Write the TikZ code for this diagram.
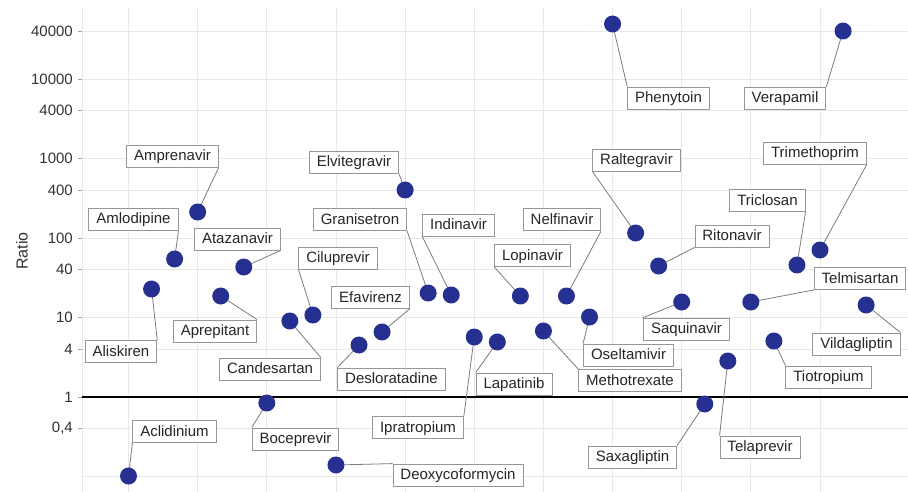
\documentclass[tikz,border=0pt]{standalone}
\usepackage{fontspec}
\newfontfamily\lab{Liberation Sans}
\definecolor{dotblue}{RGB}{38,48,145}
\definecolor{gridgray}{RGB}{232,232,232}
\definecolor{boxgray}{RGB}{150,150,150}
\definecolor{leadgray}{RGB}{125,125,125}
\definecolor{ticktext}{RGB}{50,50,50}
\pgfdeclarelayer{bg}
\pgfdeclarelayer{leaders}
\pgfsetlayers{bg,leaders,main}
\begin{document}
\begin{tikzpicture}[x=1pt,y=-1pt,
  dot/.style={circle,fill=dotblue,minimum size=17pt,inner sep=0pt},
  lbl/.style={draw=boxgray,fill=white,line width=0.8pt,inner xsep=7.5pt,inner ysep=0pt,
    text height=11pt,text depth=2pt,
    minimum height=22pt,text=black!85,font=\lab\fontsize{15}{15}\selectfont},
  leader/.style={draw=leadgray,line width=0.8pt},
  gridline/.style={draw=gridgray,line width=0.9pt},
  ticklbl/.style={anchor=east,text=ticktext,font=\lab\fontsize{15}{15}\selectfont,inner sep=0pt}]
\useasboundingbox (0,0) rectangle (908,492);
\begin{pgfonlayer}{bg}
  \fill[white] (0,0) rectangle (908,492);
  % vertical grid
  \foreach \k in {0,...,10} {
    \draw[gridline] ({128.5+69.15*\k},8) -- ({128.5+69.15*\k},492);
  }
  \draw[gridline] (82,8) -- (82,492);
  % horizontal grid and ticks (log10 values)
  \foreach \lg/\t/\nm in {4.60206/40000/a,4/10000/b,3.60206/4000/c,3/1000/d,2.60206/400/e,2/100/f,1.60206/40/g,1/10/h,0.60206/4/i,0/1/j,-0.39794/{0,4}/k} {
    \pgfmathsetmacro{\yy}{397-79.5*\lg}
    \draw[gridline] (82,\yy) -- (908,\yy);
    \draw[draw=gridgray!70!black,line width=0.8pt] (78,\yy) -- (82,\yy);
    \node[ticklbl] (t\nm) at (73,\yy) {\t};
  }
  \draw[gridline] (82,476.5) -- (908,476.5);
  \draw[black,line width=2.4pt] (82,397) -- (908,397);
\end{pgfonlayer}
\node[rotate=90,text=ticktext,font=\lab\fontsize{16}{16}\selectfont] (ylab) at (22,251) {Ratio};
\foreach \nm/\i/\yy/\cx/\cy/\an in {
  Aclidinium/0/476/174.5/431.5/south west,
  Aliskiren/1/289/121/351.5/north east,
  Amlodipine/2/259/133.5/219/south east,
  Amprenavir/3/212/172.5/156/south east,
  Aprepitant/4/296/215/331/north east,
  Atazanavir/5/267/237.5/239/south east,
  Boceprevir/6/403/295.5/439/north west,
  Candesartan/7/321/270/369/north east,
  Ciluprevir/8/315/338/258/south west,
  Deoxycoformycin/9/465/458/475/north west,
  Desloratadine/10/345/391.5/379/north west,
  Efavirenz/11/332/370.5/297.5/south east,
  Elvitegravir/12/190/354/162.5/south east,
  Granisetron/13/293/360/219.5/south east,
  Indinavir/14/295/458.5/225/south west,
  Ipratropium/15/337/418/427.5/north east,
  Lapatinib/16/342/514/384/north west,
  Lopinavir/17/296/532.5/255.5/south west,
  Methotrexate/18/331/630/380.5/north west,
  Nelfinavir/19/296/562/219.5/south east,
  Oseltamivir/20/317/628.5/355/north west,
  Phenytoin/21/24/668.5/98/north west,
  Raltegravir/22/233/636.5/160/south west,
  Ritonavir/23/266/732/236/south west,
  Saquinavir/24/302/686.5/329/north west,
  Saxagliptin/25/404/632.5/457/north east,
  Telaprevir/26/361/760/447/north west,
  Telmisartan/27/302/860/278.5/south west,
  Tiotropium/28/341/828.5/377/north west,
  Triclosan/29/265/767.5/200.5/south east,
  Trimethoprim/30/250/815/153/south east,
  Verapamil/31/31/785/98.5/north east,
  Vildagliptin/32/305/856.5/344/north east} {
  \node[dot] (d\nm) at ({128.5+23.05*\i},\yy) {};
  \node[lbl] (l\nm) at (\cx,\cy) {\nm};
  \begin{pgfonlayer}{leaders}
    \draw[leader] (d\nm.center) -- (l\nm.\an);
  \end{pgfonlayer}
}
\end{tikzpicture}
\end{document}
